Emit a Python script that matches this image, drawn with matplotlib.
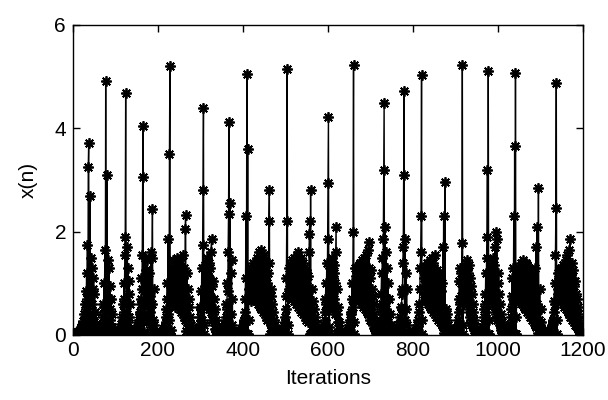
import numpy as np
import matplotlib
matplotlib.use("Agg")
import matplotlib.pyplot as plt

# ---- data: x(n), one block per burst cycle ----
seg01 = [0.02, 0.01, 0.01, 0.02, 0.01, 0.03, 0.02, 0.04, 0.03, 0.05,
         0.04, 0.06, 0.05, 0.08, 0.07, 0.1, 0.06, 0.12, 0.09, 0.15,
         0.1, 0.2, 0.13, 0.28, 0.18, 0.4, 0.25, 0.6, 0.35, 0.85,
         0.5, 1.2, 0.7, 1.75, 0.02, 3.25, 3.72, 0.01, 0.08, 2.7,
         0.03, 0.3, 1.5, 0.6, 1.3, 0.9, 0.4, 1.1, 0.25, 0.8,
         0.15, 0.45, 0.08, 0.2, 0.05]
seg02 = [0.03, 0.02, 0.02, 0.03, 0.02, 0.04, 0.03, 0.05, 0.04, 0.07,
         0.06, 0.12, 0.1, 0.22, 0.35, 0.6, 0.4, 1.0, 0.55, 1.65,
         0.05, 4.92, 0.01, 0.3, 3.1, 0.02, 0.2, 1.45, 0.7, 1.3,
         0.5, 0.95, 0.3, 0.7, 0.15, 0.4, 0.08, 0.15]
seg03 = [0.02, 0.01, 0.02, 0.01, 0.03, 0.02, 0.03, 0.02, 0.04, 0.03,
         0.05, 0.04, 0.06, 0.05, 0.08, 0.07, 0.1, 0.09, 0.15, 0.12,
         0.22, 0.18, 0.35, 0.3, 0.6, 0.45, 1.0, 0.7, 1.55, 1.9,
         4.69, 0.01, 0.06, 0.4, 1.7, 0.25, 1.3, 0.8, 1.05, 0.35,
         0.6, 0.12]
seg04 = [0.03, 0.02, 0.02, 0.03, 0.02, 0.04, 0.03, 0.05, 0.04, 0.06,
         0.05, 0.08, 0.07, 0.1, 0.09, 0.14, 0.12, 0.2, 0.18, 0.3,
         0.25, 0.45, 0.4, 0.7, 0.6, 1.1, 0.9, 1.55, 3.05, 4.05,
         0.01, 0.05, 0.4, 1.5, 0.6, 1.25, 0.9, 1.1, 0.7, 1.45,
         0.3, 0.9, 0.5, 1.2, 0.25, 0.75, 0.45, 1.6, 0.15, 0.6,
         1.5, 2.43, 0.05, 0.3, 0.9, 0.2, 0.06]
seg05 = [0.02, 0.01, 0.01, 0.02, 0.01, 0.02, 0.01, 0.03, 0.02, 0.03,
         0.02, 0.04, 0.03, 0.05, 0.04, 0.06, 0.05, 0.08, 0.07, 0.1,
         0.09, 0.13, 0.12, 0.18, 0.16, 0.25, 0.35, 0.5, 0.7, 1.0,
         0.4, 1.85, 0.02, 0.3, 3.5, 5.21, 0.01, 0.1, 0.65, 1.3,
         0.8, 1.2, 0.6, 1.45, 0.75, 1.1, 0.9, 1.35, 0.55, 1.25,
         0.85, 1.5, 0.6, 1.15, 0.95, 1.4, 0.7, 1.3, 0.5, 1.45,
         0.65, 1.2, 0.45, 1.05, 0.8, 1.55, 0.4, 1.1, 0.35, 1.3,
         0.3, 2.05, 2.32, 0.08, 0.5, 1.2, 0.25, 0.9, 0.2, 0.7,
         0.12, 0.55, 0.1, 0.35, 0.06, 0.2, 0.04, 0.1, 0.03]
seg06 = [0.02, 0.01, 0.02, 0.01, 0.02, 0.03, 0.02, 0.04, 0.03, 0.05,
         0.04, 0.07, 0.06, 0.1, 0.09, 0.15, 0.22, 0.35, 0.55, 0.85,
         0.5, 1.3, 0.3, 1.75, 2.8, 4.40, 0.01, 0.2, 0.95, 1.35,
         0.7, 1.2, 0.85, 1.5, 0.6, 1.25, 0.95, 1.4, 0.5, 1.1,
         0.75, 1.3, 0.45, 1.6, 1.85, 0.3, 0.95, 0.4, 1.05, 0.25,
         0.7, 0.2, 0.5, 0.12, 0.3, 0.07, 0.15, 0.04]
seg07 = [0.03, 0.02, 0.02, 0.01, 0.02, 0.03, 0.02, 0.04, 0.03, 0.05,
         0.04, 0.07, 0.06, 0.1, 0.09, 0.15, 0.13, 0.22, 0.2, 0.35,
         0.3, 0.6, 0.5, 1.0, 0.85, 1.6, 2.35, 4.13, 0.01, 2.55,
         0.05, 1.2, 0.4, 1.45, 0.2, 0.7, 0.08]
seg08 = [0.02, 0.01, 0.01, 0.02, 0.01, 0.02, 0.01, 0.02, 0.03, 0.02,
         0.03, 0.04, 0.03, 0.05, 0.04, 0.06, 0.05, 0.08, 0.07, 0.1,
         0.09, 0.14, 0.12, 0.2, 0.18, 0.3, 0.28, 0.45, 0.7, 1.1,
         2.3, 0.02, 5.06, 0.01, 3.6, 0.02, 0.3, 0.9, 0.7, 1.2,
         0.85, 1.05, 0.65, 1.3, 0.95, 1.15, 0.75, 1.4, 0.9, 1.2,
         0.7, 1.35, 1.0, 1.25, 0.65, 1.5, 0.85, 1.3, 0.6, 1.45,
         0.8, 1.6, 0.55, 1.2, 0.9, 1.65, 0.5, 1.3, 0.7, 1.5,
         0.45, 1.25, 0.6, 1.55, 0.4, 1.1, 0.55, 1.35, 0.35, 1.0,
         0.3, 1.2, 0.45, 1.4, 2.2, 2.81, 0.02, 0.25, 0.9, 0.2,
         0.75, 0.15, 0.6, 0.12, 0.45, 0.08, 0.3, 0.06, 0.2, 0.04,
         0.12, 0.03, 0.07, 0.02, 0.04]
seg09 = [0.03, 0.02, 0.01, 0.02, 0.01, 0.02, 0.03, 0.02, 0.04, 0.03,
         0.05, 0.07, 0.06, 0.1, 0.12, 0.18, 0.25, 0.35, 0.5, 0.75,
         1.1, 2.2, 5.15, 0.01, 0.2, 0.8, 1.3, 0.9, 1.1, 0.75,
         1.35, 0.95, 1.2, 0.7, 1.45, 0.85, 1.25, 1.0, 1.5, 0.65,
         1.3, 0.9, 1.4, 0.6, 1.55, 0.8, 1.2, 0.55, 1.6, 0.75,
         1.35, 0.5, 1.25, 0.7, 1.5, 0.45, 1.1, 0.6, 1.4, 0.4,
         1.2, 0.5, 1.3, 0.35, 1.05, 0.45, 1.25, 0.3, 0.95, 0.4,
         1.15, 0.25, 0.85, 1.6, 1.95, 2.2, 0.02, 2.81, 0.04, 0.6,
         0.25, 0.9, 0.2, 0.65, 0.15, 0.5, 0.1, 0.35, 0.07, 0.22,
         0.05, 0.14, 0.04, 0.09, 0.03, 0.05, 0.02, 0.03]
seg10 = [0.02, 0.01, 0.02, 0.01, 0.02, 0.03, 0.04, 0.05, 0.07, 0.1,
         0.14, 0.2, 0.3, 0.45, 0.7, 1.0, 0.6, 1.4, 0.5, 1.85,
         2.95, 4.21, 0.01, 0.15, 0.7, 1.3, 0.9, 1.2, 0.65, 1.5,
         0.8, 1.1, 0.5, 1.35, 0.7, 1.2, 0.4, 1.0, 1.6, 2.10,
         0.03, 0.4, 0.9, 0.25, 0.55, 0.12, 0.25, 0.05]
seg11 = [0.02, 0.01, 0.02, 0.01, 0.02, 0.01, 0.02, 0.03, 0.02, 0.03,
         0.04, 0.03, 0.05, 0.04, 0.06, 0.05, 0.08, 0.07, 0.1, 0.09,
         0.14, 0.12, 0.2, 0.18, 0.3, 0.26, 0.45, 0.4, 0.7, 1.0,
         0.55, 2.0, 5.23, 0.01, 0.25, 0.95, 1.3, 0.85, 1.15, 0.7,
         1.25, 0.95, 1.1, 0.8, 1.35, 0.65, 1.2, 1.0, 1.4, 0.75,
         1.3, 0.6, 1.45, 0.85, 1.15, 0.55, 1.5, 0.7, 1.25, 0.5,
         1.35, 0.65, 1.55, 0.45, 1.2, 0.6, 1.65, 0.4, 1.3, 1.8,
         0.3, 1.1, 0.5, 1.25, 0.35, 0.9, 0.28, 0.75, 0.2, 0.6,
         0.14, 0.4, 0.1, 0.25, 0.06, 0.12, 0.04]
seg12 = [0.02, 0.01, 0.02, 0.03, 0.05, 0.08, 0.12, 0.2, 0.3, 0.5,
         0.8, 1.2, 0.6, 1.5, 0.4, 1.85, 3.2, 4.50, 0.01, 2.1,
         0.03, 0.5, 1.6, 0.7, 1.3, 0.4, 1.0, 0.25, 0.7, 0.15,
         0.4, 0.08, 0.2, 0.04, 0.06]
seg13 = [0.03, 0.02, 0.01, 0.02, 0.01, 0.02, 0.03, 0.02, 0.04, 0.03,
         0.05, 0.04, 0.07, 0.06, 0.1, 0.09, 0.15, 0.13, 0.22, 0.2,
         0.35, 0.3, 0.55, 0.5, 0.9, 0.8, 1.4, 1.7, 3.1, 4.73,
         0.01, 1.85, 0.3, 1.2, 0.5, 0.9, 0.2, 0.06]
seg14 = [0.02, 0.01, 0.02, 0.01, 0.02, 0.01, 0.02, 0.03, 0.02, 0.03,
         0.04, 0.03, 0.05, 0.04, 0.06, 0.05, 0.08, 0.07, 0.1, 0.09,
         0.14, 0.12, 0.2, 0.18, 0.3, 0.28, 0.45, 0.6, 0.9, 1.3,
         1.6, 2.3, 5.03, 0.01, 0.3, 0.9, 1.25, 0.8, 1.1, 0.65,
         1.3, 0.9, 1.15, 0.7, 1.4, 0.85, 1.2, 0.6, 1.35, 0.95,
         1.25, 0.55, 1.45, 0.8, 1.3, 0.5, 1.5, 0.7, 1.2, 0.45,
         1.4, 0.6, 1.3, 0.4, 1.55, 0.55, 1.15, 0.35, 1.25, 0.5,
         1.05, 0.3, 1.2, 0.4, 0.95, 0.25, 1.1, 0.35, 0.85, 0.2,
         1.0, 0.3, 1.7, 0.15, 2.3, 0.03, 0.4, 2.97, 0.02, 0.5,
         0.15, 0.4, 0.1, 0.3, 0.07, 0.2, 0.05, 0.12, 0.03, 0.06,
         0.02, 0.03]
seg15 = [0.03, 0.02, 0.01, 0.02, 0.01, 0.02, 0.03, 0.04, 0.03, 0.05,
         0.07, 0.06, 0.1, 0.09, 0.15, 0.2, 0.3, 0.45, 0.7, 1.05,
         0.6, 1.3, 0.75, 1.2, 1.0, 1.79, 5.23, 0.01, 0.2, 0.85,
         1.3, 0.9, 1.15, 0.7, 1.4, 0.8, 1.25, 0.6, 1.45, 0.7,
         1.2, 0.5, 1.35, 0.45, 1.1, 0.35, 0.95, 0.3, 0.8, 0.2,
         0.6, 0.15, 0.45, 0.1, 0.3, 0.07, 0.18, 0.04, 0.08, 0.03]
seg16 = [0.02, 0.01, 0.02, 0.01, 0.02, 0.03, 0.02, 0.04, 0.03, 0.05,
         0.04, 0.07, 0.06, 0.1, 0.09, 0.15, 0.22, 0.35, 0.5, 0.8,
         0.6, 1.2, 0.45, 1.5, 1.9, 3.2, 0.02, 5.11, 0.01, 0.3,
         1.0, 1.25, 0.8, 1.15, 0.7, 1.4, 0.9, 1.3, 0.6, 1.5,
         0.75, 1.35, 0.55, 1.7, 0.5, 2.0, 0.4, 1.85, 0.3, 1.2,
         0.35, 1.0, 0.25, 0.8, 0.2, 0.6, 0.15, 0.4, 0.1, 0.25,
         0.06, 0.14, 0.04, 0.07, 0.03]
seg17 = [0.02, 0.01, 0.02, 0.01, 0.02, 0.03, 0.02, 0.04, 0.03, 0.05,
         0.05, 0.08, 0.1, 0.15, 0.22, 0.35, 0.5, 0.75, 1.1, 0.6,
         1.3, 0.7, 2.3, 0.02, 3.65, 0.01, 5.08, 0.01, 0.35, 0.95,
         1.25, 0.8, 1.1, 0.65, 1.3, 0.9, 1.2, 0.7, 1.4, 0.85,
         1.25, 0.6, 1.35, 0.75, 1.45, 0.55, 1.2, 0.7, 1.3, 0.5,
         1.4, 0.6, 1.15, 0.45, 1.35, 0.55, 1.25, 0.4, 1.1, 0.5,
         1.2, 0.35, 1.0, 0.45, 1.15, 0.3, 0.9, 0.4, 1.05, 0.25,
         0.85, 0.3, 1.3, 0.2, 1.7, 0.15, 0.6, 2.1, 0.03, 0.5,
         2.84, 0.02, 0.3, 0.9, 0.2, 0.5, 0.1, 0.25, 0.05, 0.1]
seg18 = [0.02, 0.01, 0.02, 0.01, 0.02, 0.01, 0.02, 0.03, 0.02, 0.03,
         0.04, 0.03, 0.05, 0.04, 0.06, 0.05, 0.08, 0.07, 0.1, 0.09,
         0.14, 0.12, 0.2, 0.18, 0.3, 0.28, 0.45, 0.65, 1.0, 0.6,
         1.55, 2.45, 4.88, 0.01, 0.3, 0.9, 1.2, 0.8, 1.1, 0.7,
         1.25, 0.85, 1.15, 0.65, 1.3, 0.9, 1.2, 0.6, 1.35, 0.75,
         1.25, 0.55, 1.4, 0.8, 1.3, 0.5, 1.45, 0.7, 1.55, 0.45,
         1.3, 0.6, 1.65, 0.4, 1.85, 0.35, 1.2, 0.5, 1.4, 0.3,
         1.1, 0.4, 1.25, 0.25, 0.95, 0.35, 1.05, 0.2, 0.8, 0.25,
         0.7, 0.15, 0.55, 0.12, 0.4, 0.08, 0.3, 0.06, 0.2, 0.04,
         0.12, 0.03, 0.07, 0.02, 0.03, 0.02]

segments = [seg01, seg02, seg03, seg04, seg05, seg06, seg07, seg08, seg09,
            seg10, seg11, seg12, seg13, seg14, seg15, seg16, seg17, seg18]
x_n = np.concatenate([np.asarray(s, dtype=float) for s in segments])
iterations = np.arange(1, len(x_n) + 1)

x_ticks = [0, 200, 400, 600, 800, 1000, 1200]
y_ticks = [0, 2, 4, 6]
x_label = "Iterations"
y_label = "x(n)"

# ---- figure ----
plt.rcParams['font.family'] = ['Liberation Sans', 'DejaVu Sans']
fig = plt.figure(figsize=(6.08, 4.0), dpi=100)
ax = fig.add_axes([0.12, 0.1625, 0.839, 0.775])

ax.plot(iterations, x_n, color='black', linewidth=1.0,
        marker=(8, 2, 0), markersize=7.5, markeredgewidth=1.3,
        markeredgecolor='black', markerfacecolor='black')

ax.set_xlim(0, 1200)
ax.set_ylim(0, 6)
ax.set_xticks(x_ticks)
ax.set_yticks(y_ticks)
ax.set_xticklabels([str(t) for t in x_ticks])
ax.set_yticklabels([str(t) for t in y_ticks])
ax.tick_params(direction='in', length=5, width=1, top=True, right=True,
               labelsize=15, colors='black')
ax.tick_params(axis='x', pad=4)
ax.tick_params(axis='y', pad=5)
for sp in ax.spines.values():
    sp.set_linewidth(1.0)
    sp.set_color('black')
ax.set_xlabel(x_label, fontsize=15, labelpad=7)
ax.set_ylabel(y_label, fontsize=15, labelpad=12)

fig.savefig("out.png", dpi=100)
